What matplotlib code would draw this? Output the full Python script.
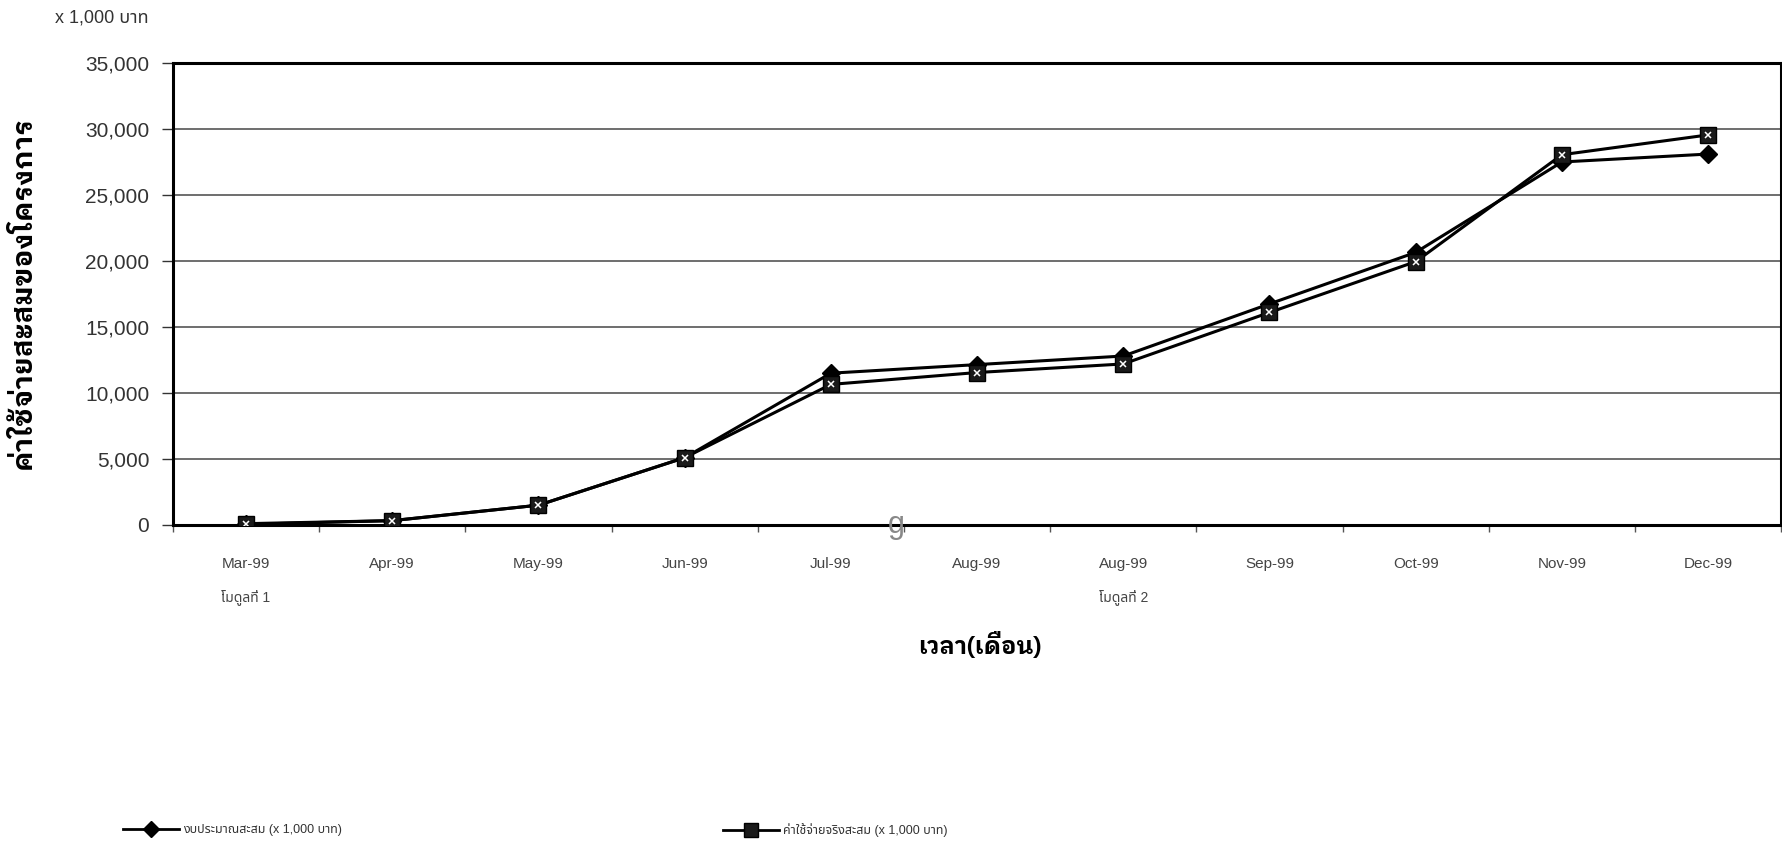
# cumulative budget vs actual spending chart
import matplotlib
matplotlib.use("Agg")
import matplotlib.pyplot as plt
import numpy as np

plt.rcParams['font.family'] = ['Liberation Sans', 'Noto Sans Thai']

# data (x 1,000 baht)
months = ["Mar-99", "Apr-99", "May-99", "Jun-99", "Jul-99", "Aug-99",
          "Aug-99", "Sep-99", "Oct-99", "Nov-99", "Dec-99"]
budget = [50, 330, 1500, 5100, 11500, 12150, 12800, 16750, 20650, 27500, 28100]
actual = [100, 330, 1500, 5100, 10650, 11550, 12200, 16100, 19950, 28050, 29550]
yticks = [0, 5000, 10000, 15000, 20000, 25000, 30000, 35000]
module_labels = ["โมดูลที่ 1", "โมดูลที่ 2"]
module_pos = [0, 6]

budget_label = "งบประมาณสะสม (x 1,000 บาท)"
actual_label = "ค่าใช้จ่ายจริงสะสม (x 1,000 บาท)"
thai_bold = ['IBM Plex Sans Thai Looped', 'Noto Sans Thai']

fig = plt.figure(figsize=(17.83, 8.42), dpi=100)
ax = fig.add_axes([0.097, 0.3765, 0.902, 0.5487])

x = np.arange(len(months))
ax.plot(x, budget, color='black', lw=2.2, marker='D', ms=9,
        mfc='black', mec='black', zorder=3)
ax.plot(x, actual, color='black', lw=2.2, marker='s', ms=11,
        mfc='#1a1a1a', mec='black', zorder=4)
# white pattern inside the square markers
ax.plot(x, actual, ls='none', marker='x', ms=5, mec='white', mew=1.1, zorder=5)

ax.set_xlim(-0.5, len(months) - 0.5)
ax.set_ylim(0, 35000)
ax.set_yticks(yticks)
ax.set_yticklabels(["{:,}".format(v) for v in yticks], fontsize=15, color='#333333')
ax.set_xticks(x)
ax.set_xticklabels(months, fontsize=11, color='#444444')
ax.set_xticks(np.arange(-0.5, len(months)), minor=True)
ax.tick_params(axis='x', which='major', length=0, pad=23)
ax.tick_params(axis='x', which='minor', length=5, width=1, color='#555555')
ax.tick_params(axis='y', length=8, width=1, pad=9, color='#333333')

for v in yticks[1:-1]:
    ax.axhline(v, color='#555555', lw=1.2, zorder=1)

for side in ['left', 'bottom', 'top', 'right']:
    ax.spines[side].set_linewidth(2.2)
    ax.spines[side].set_color('black')

tr = matplotlib.transforms.blended_transform_factory(ax.transData, ax.transAxes)
for lab, p in zip(module_labels, module_pos):
    ax.text(p, -0.156, lab, transform=tr, ha='center', va='center',
            fontsize=10, color='#444444')

ax.text(4.45, 0.0, "g", fontsize=22, color='#888888', ha='center', va='center')

fig.text(55 / 1783, 1 - 18 / 842, "x 1,000 บาท", fontsize=13, color='#333333',
         ha='left', va='center')
fig.text(23 / 1783, 1 - 293 / 842, "ค่าใช้จ่ายสะสมของโครงการ", rotation=90,
         fontsize=20, fontweight='bold', family=thai_bold, ha='center', va='center')
fig.text(980 / 1783, 1 - 646 / 842, "เวลา(เดือน)", fontsize=17, fontweight='bold',
         family=thai_bold, ha='center', va='center')

h1, = ax.plot([], [], color='black', lw=2.0, marker='D', ms=8, mfc='black')
h2, = ax.plot([], [], color='black', lw=2.0, marker='s', ms=10, mfc='#1a1a1a')
fig.legend(handles=[h1], labels=[budget_label], loc='center left',
           bbox_to_anchor=(123 / 1783, 1 - 830 / 842), frameon=False,
           borderpad=0, borderaxespad=0, handlelength=4.5, handletextpad=0.3,
           fontsize=9, labelcolor='#333333')
fig.legend(handles=[h2], labels=[actual_label], loc='center left',
           bbox_to_anchor=(723 / 1783, 1 - 830 / 842), frameon=False,
           borderpad=0, borderaxespad=0, handlelength=4.5, handletextpad=0.3,
           fontsize=9, labelcolor='#333333')

fig.savefig("out.png", dpi=100)
